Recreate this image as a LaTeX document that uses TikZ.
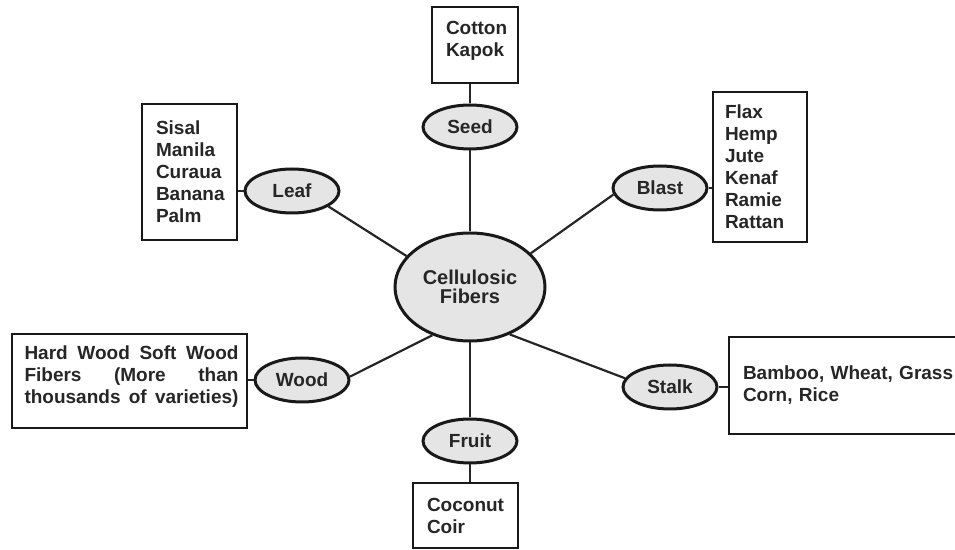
\documentclass[tikz,border=0pt]{standalone}
\usepackage{fontspec}
\setmainfont{Liberation Sans}
\usetikzlibrary{shapes.geometric}

\begin{document}
\begin{tikzpicture}[
    x=0.5pt, y=-0.5pt,
    font=\fontsize{9.5}{11}\selectfont\bfseries,
    text=black!85,
    source/.style={ellipse, draw=black!90, fill=black!10, line width=1.5pt,
                   minimum width=47pt, minimum height=22pt, inner sep=0pt},
    core/.style={source, minimum width=75pt, minimum height=54pt,
                 font=\fontsize{10}{9.5}\selectfont\bfseries, align=center},
    list/.style={draw=black!90, line width=1pt, align=left, inner xsep=7pt,
                 inner ysep=0pt},
    link/.style={line width=1.1pt, draw=black!85},
  ]
  \useasboundingbox (0,0) rectangle (955,550);

  % centre and the six sources
  \node[core] (cf) at (470,287) {Cellulosic\\Fibers};
  \node[source] (seed) at (470,127) {Seed};
  \node[source] (leaf) at (292,191) {Leaf};
  \node[source] (blast) at (660,188) {Blast};
  \node[source] (wood) at (302,380) {Wood};
  \node[source] (stalk) at (670,387) {Stalk};
  \node[source] (fruit) at (470,441) {Fruit};

  % lists of fibres
  \node[list, text width=29pt, minimum height=38pt, text depth=17pt] (cottonbox)
       at (475,45) {Cotton\\Kapok};
  \node[list, text width=33.5pt, minimum height=68pt] (leafbox) at (189.5,172)
       {Sisal\\Manila\\Curaua\\Banana\\Palm};
  \node[list, inner xsep=6pt, text width=35pt, minimum height=75pt] (blastbox)
       at (760,167) {Flax\\Hemp\\Jute\\Kenaf\\Ramie\\Rattan};
  \node[list, inner xsep=4.25pt, text width=109pt, minimum height=47pt,
        text depth=28pt] (woodbox) at (129.5,381)
       {\makebox[109pt][s]{\hspace*{2pt}Hard\hfill Wood\hfill Soft\hfill Wood}\\
        \makebox[109pt][s]{\hspace*{2pt}Fibers\hfill (More\hfill than}\\
        \makebox[109pt][s]{\hspace*{2pt}thousands\hfill of\hfill varieties)}};
  \node[list, text width=110pt, minimum height=48.5pt] (stalkbox) at (853,385.5)
       {Bamboo, Wheat, Grass\\Corn, Rice};
  \node[list, text width=38.5pt, minimum height=32.5pt] (coconutbox)
       at (465.5,515.5) {Coconut\\Coir};

  \draw[link] (seed) -- (cf);
  \draw[link] (fruit) -- (cf);
  \draw[link] (leaf.337) -- (cf.154);
  \draw[link] (blast.188) -- (cf.29);
  \draw[link] (wood.4) -- (cf.232);
  \draw[link] (stalk.169) -- (cf.310);

  \draw[link] (seed.north) -- (seed.north |- cottonbox.south);
  \draw[link] (fruit.south) -- (fruit.south |- coconutbox.north);
  \draw[link] (leaf.west) -- (leaf.west -| leafbox.east);
  \draw[link] (blast.east) -- (blast.east -| blastbox.west);
  \draw[link] (wood.west) -- (wood.west -| woodbox.east);
  \draw[link] (stalk.east) -- (stalk.east -| stalkbox.west);

\end{tikzpicture}
\end{document}
